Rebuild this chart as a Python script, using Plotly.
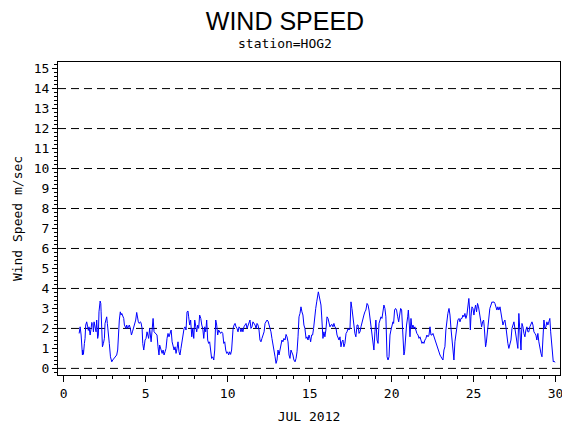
import plotly.graph_objects as go

# ─── Data: hourly-ish wind speed, station HOG2, July 2012 ───────────────────
DAYS = [
    0.94, 1.00, 1.06, 1.10, 1.14, 1.16, 1.20, 1.26, 1.30, 1.34, 1.40, 1.46, 1.50, 1.54, 1.61,
    1.67, 1.71, 1.77, 1.81, 1.85, 1.91, 1.97, 2.01, 2.07, 2.11, 2.15, 2.22, 2.26, 2.28, 2.32,
    2.36, 2.42, 2.48, 2.52, 2.58, 2.62, 2.66, 2.72, 2.78, 2.85, 2.89, 2.93, 2.99, 3.05, 3.13,
    3.23, 3.29, 3.33, 3.39, 3.45, 3.50, 3.54, 3.60, 3.66, 3.70, 3.74, 3.80, 3.84, 3.90, 3.94,
    4.00, 4.06, 4.13, 4.19, 4.25, 4.31, 4.39, 4.45, 4.49, 4.55, 4.61, 4.67, 4.71, 4.78, 4.82,
    4.88, 4.92, 4.96, 5.02, 5.08,
    5.18, 5.24, 5.33, 5.39, 5.45, 5.51, 5.59, 5.69, 5.75, 5.81, 5.85, 5.94, 6.00, 6.06, 6.12,
    6.18, 6.24, 6.30, 6.36, 6.42, 6.48, 6.55, 6.61, 6.67, 6.73, 6.79, 6.85, 6.91, 6.97, 7.03,
    7.09, 7.15, 7.22, 7.28, 7.34, 7.40, 7.46, 7.52, 7.58, 7.62, 7.68, 7.74, 7.81, 7.87, 7.93,
    7.99, 8.05, 8.11, 8.17, 8.23, 8.29, 8.36, 8.42, 8.48, 8.54, 8.60, 8.66, 8.72, 8.78, 8.84,
    8.90, 8.96, 9.02, 9.09, 9.15, 9.21, 9.27, 9.33, 9.39, 9.45, 9.51, 9.57, 9.63, 9.70, 9.76,
    9.82, 9.88, 9.94, 10.00, 10.06,
    10.12, 10.18, 10.24, 10.28, 10.33, 10.39, 10.45, 10.51, 10.57, 10.63, 10.69, 10.75, 10.81,
    10.87, 10.93, 10.99, 11.06, 11.12, 11.18, 11.24, 11.30, 11.36, 11.42, 11.48, 11.54, 11.61,
    11.67, 11.73, 11.79, 11.85, 11.91, 11.97, 12.03, 12.09, 12.15, 12.22, 12.28, 12.34, 12.40,
    12.46, 12.52, 12.58, 12.64, 12.70, 12.76, 12.83, 12.89, 12.95, 13.01, 13.07, 13.13, 13.19,
    13.25, 13.31, 13.37, 13.43, 13.50, 13.56, 13.62, 13.68, 13.74, 13.80, 13.86, 13.92, 13.98,
    14.04, 14.11, 14.17, 14.23, 14.29, 14.35, 14.41, 14.47, 14.53, 14.59, 14.65, 14.71, 14.78,
    14.84, 14.90, 14.96, 15.02,
    15.06, 15.12, 15.18, 15.24, 15.30, 15.37, 15.43, 15.49, 15.53, 15.57, 15.63, 15.69, 15.73,
    15.77, 15.81, 15.87, 15.93, 15.99, 16.06, 16.12, 16.18, 16.24, 16.30, 16.36, 16.42, 16.48,
    16.54, 16.61, 16.67, 16.73, 16.79, 16.85, 16.91, 16.97, 17.03, 17.09, 17.15, 17.22, 17.28,
    17.34, 17.40, 17.46, 17.52, 17.58, 17.64, 17.70, 17.76, 17.82, 17.89, 17.95, 18.01, 18.07,
    18.13, 18.19, 18.25, 18.31, 18.37, 18.43, 18.50, 18.56, 18.62, 18.68, 18.74, 18.80, 18.86,
    18.92, 18.98, 19.04, 19.11, 19.17, 19.23, 19.29, 19.35, 19.41, 19.47, 19.53, 19.59, 19.65,
    19.72, 19.78, 19.84, 19.90, 19.96, 20.02, 20.08,
    20.12, 20.18, 20.24, 20.30, 20.37, 20.43, 20.49, 20.55, 20.61, 20.65, 20.71, 20.75, 20.79,
    20.85, 20.91, 20.98, 21.02, 21.08, 21.12, 21.18, 21.24, 21.30, 21.36, 21.42, 21.48, 21.54,
    21.61, 21.67, 21.73, 21.79, 21.85, 21.91, 21.97, 22.03, 22.09, 22.15, 22.22, 22.28, 22.34,
    22.40, 22.46, 22.52, 22.58, 22.64, 22.70, 22.76, 22.82, 22.89, 22.95, 23.01, 23.07, 23.13,
    23.19, 23.25, 23.31, 23.37, 23.43, 23.50, 23.56, 23.62, 23.68, 23.74, 23.80, 23.86, 23.92,
    23.98, 24.04, 24.11, 24.17, 24.23, 24.29, 24.35, 24.41, 24.47, 24.53, 24.59, 24.65, 24.71,
    24.76, 24.80, 24.84, 24.90, 24.96, 25.02,
    25.06, 25.12, 25.18, 25.24, 25.30, 25.37, 25.43, 25.49, 25.55, 25.61, 25.65, 25.69, 25.73,
    25.77, 25.81, 25.87, 25.93, 25.99, 26.06, 26.12, 26.18, 26.24, 26.30, 26.36, 26.42, 26.48,
    26.54, 26.61, 26.67, 26.73, 26.79, 26.85, 26.91, 26.97, 27.03, 27.09, 27.15, 27.22, 27.28,
    27.34, 27.40, 27.46, 27.52, 27.58, 27.64, 27.70, 27.76, 27.83, 27.89, 27.95, 28.01, 28.07,
    28.13, 28.19, 28.25, 28.31, 28.37, 28.43, 28.50, 28.56, 28.62, 28.68, 28.74, 28.80, 28.86,
    28.92, 28.98, 29.04, 29.11, 29.17, 29.23, 29.29, 29.35, 29.41, 29.47, 29.53, 29.59, 29.65,
    29.70, 29.76, 29.82, 29.86, 29.90, 29.96,
]

WIND = [
    1.75, 2.08, 1.67, 0.75, 0.67, 0.92, 0.70, 1.25, 1.50, 2.17, 2.33, 2.08, 1.90, 2.08, 1.67,
    2.00, 2.30, 2.25, 1.83, 2.33, 2.08, 1.83, 2.42, 1.50, 1.67, 2.83, 3.37, 3.25, 2.83, 1.33,
    1.08, 1.25, 1.50, 2.25, 2.50, 2.58, 2.25, 1.83, 1.25, 0.58, 0.42, 0.33, 0.42, 0.50, 0.58,
    0.67, 0.92, 1.83, 2.42, 2.83, 2.67, 2.75, 2.58, 2.50, 2.17, 2.08, 2.00, 2.17, 2.00, 2.08,
    2.17, 2.00, 1.67, 1.83, 2.00, 2.17, 2.42, 2.80, 2.50, 2.33, 2.25, 2.33, 2.30, 2.00, 1.25,
    0.92, 1.17, 1.42, 1.50, 1.83,
    1.50, 2.00, 1.33, 2.00, 2.50, 1.83, 1.75, 1.67, 1.08, 0.67, 1.17, 0.92, 0.75, 0.92, 0.67,
    0.83, 1.00, 1.50, 1.75, 1.58, 1.75, 1.92, 1.33, 1.17, 0.92, 1.08, 0.75, 1.00, 1.33, 0.83,
    0.67, 1.00, 1.42, 1.75, 2.00, 2.08, 1.92, 2.83, 2.87, 2.58, 2.17, 2.42, 1.58, 2.00, 1.50,
    2.42, 2.08, 1.83, 2.17, 2.00, 2.67, 2.50, 2.17, 2.00, 1.50, 2.08, 1.83, 2.42, 1.42, 1.25,
    1.33, 0.67, 0.50, 0.58, 0.42, 0.92, 2.42, 2.17, 1.67, 1.92, 1.83, 1.75, 1.83, 1.75, 1.25,
    1.33, 0.92, 0.75, 0.83, 0.67,
    0.83, 0.70, 0.92, 1.83, 2.00, 2.17, 2.25, 2.08, 2.00, 1.83, 2.08, 2.00, 1.83,
    2.00, 1.83, 2.08, 2.17, 2.25, 2.00, 2.17, 2.33, 2.42, 2.00, 2.08, 2.33, 2.25,
    2.17, 2.00, 2.25, 2.17, 1.92, 1.42, 1.33, 1.50, 1.67, 1.83, 2.25, 2.33, 2.42,
    2.37, 2.17, 2.08, 1.83, 1.50, 1.25, 0.92, 0.58, 0.25, 0.42, 0.92, 0.67, 0.92,
    1.25, 1.42, 1.33, 1.50, 1.42, 1.70, 1.58, 1.33, 0.67, 0.50, 0.92, 0.83, 0.67,
    0.42, 0.33, 0.50, 0.83, 1.58, 2.58, 2.75, 3.08, 2.83, 2.67, 2.17, 2.00, 1.50,
    1.58, 1.42, 1.67, 1.50,
    1.33, 1.67, 1.67, 2.00, 2.67, 3.00, 3.33, 3.58, 3.83, 3.67, 3.42, 3.17, 2.67,
    2.00, 1.50, 1.83, 1.58, 1.92, 2.58, 2.50, 2.25, 2.08, 2.17, 2.20, 2.08, 2.25,
    2.08, 2.00, 1.67, 1.50, 1.42, 1.58, 1.08, 1.33, 1.42, 1.08, 1.25, 1.75, 1.83,
    2.00, 1.92, 2.00, 3.33, 3.00, 2.67, 2.17, 1.75, 1.58, 2.17, 2.17, 1.75, 1.83,
    2.08, 2.33, 2.58, 2.67, 2.83, 2.92, 3.25, 3.17, 2.92, 2.50, 2.08, 1.50, 1.08,
    0.92, 1.83, 2.42, 1.42, 1.25, 2.25, 2.50, 2.58, 2.50, 2.75, 3.17, 3.00, 2.58,
    0.58, 0.42, 0.58, 1.67, 1.92, 2.08, 2.33,
    2.25, 2.92, 3.00, 2.92, 2.58, 2.33, 2.67, 3.00, 2.92, 2.25, 1.00, 0.67, 0.83,
    1.83, 2.17, 2.58, 2.92, 2.17, 1.58, 2.50, 2.00, 2.17, 2.00, 2.08, 1.83, 1.75,
    1.67, 1.50, 1.58, 1.42, 1.25, 1.33, 1.25, 1.42, 1.50, 1.67, 1.58, 1.67, 2.08,
    1.67, 1.67, 1.75, 1.58, 1.50, 1.33, 1.08, 1.00, 0.83, 0.67, 0.58, 0.50, 0.42,
    0.92, 1.08, 1.92, 2.58, 2.75, 3.00, 2.67, 2.00, 1.50, 0.92, 0.42, 1.33, 1.75,
    2.00, 2.42, 2.50, 2.33, 2.50, 2.50, 2.67, 2.58, 2.75, 2.50, 2.67, 3.17, 3.50,
    2.92, 1.92, 2.58, 3.08, 3.00, 2.67,
    2.92, 3.17, 2.83, 3.25, 3.08, 2.67, 2.25, 2.08, 2.33, 2.42, 2.08, 1.67, 1.08,
    1.25, 1.58, 2.17, 2.75, 3.00, 3.17, 3.33, 3.30, 3.33, 3.25, 3.08, 2.92, 3.08,
    2.92, 3.08, 2.83, 2.50, 2.17, 2.33, 2.42, 2.08, 1.42, 1.25, 1.00, 1.17, 1.42,
    2.00, 2.17, 2.33, 2.00, 1.58, 1.17, 1.00, 2.75, 1.83, 0.92, 2.25, 2.08, 1.75,
    1.58, 1.92, 2.08, 1.83, 1.83, 2.08, 2.25, 2.33, 2.17, 1.83, 1.75, 1.67, 1.42,
    1.75, 1.33, 1.00, 0.75, 0.58, 1.50, 2.42, 2.00, 2.08, 2.33, 2.17, 2.33, 2.50,
    1.83, 1.33, 0.67, 0.33, 0.37, 0.30,
]

REF_LEVELS = [0, 2, 4, 6, 8, 10, 12, 14]

TITLE = "WIND SPEED"
SUBTITLE = "station=HOG2"
X_LABEL = "JUL 2012"
Y_LABEL = "Wind Speed m/sec"

_BLACK = "#000000"
_BLUE = "#0000ff"
_MONO = "DejaVu Sans Mono, monospace"

# the page body adds an 8px margin, so the figure is 8px smaller each way
_W, _H = 562, 422

fig = go.Figure()

fig.add_trace(go.Scatter(
    x=DAYS,
    y=WIND,
    mode="lines",
    line=dict(color=_BLUE, width=1),
    showlegend=False,
))

# dashed reference lines across the full width
for level in REF_LEVELS:
    fig.add_shape(
        type="line",
        xref="paper", x0=0, x1=1,
        yref="y", y0=level, y1=level,
        line=dict(color=_BLACK, width=1, dash="8px,5px"),
        layer="below",
    )

fig.add_annotation(
    text=SUBTITLE,
    xref="paper", yref="paper",
    x=0.452, y=1.058,
    xanchor="center", yanchor="middle",
    showarrow=False,
    font=dict(family=_MONO, size=13, color=_BLACK),
)

fig.update_layout(
    width=_W,
    height=_H,
    paper_bgcolor="white",
    plot_bgcolor="white",
    margin=dict(l=50, r=10, t=54, b=55, autoexpand=False),
    title=dict(
        text=TITLE,
        x=277 / _W, xref="container", xanchor="center",
        y=1 - 13 / _H, yref="container", yanchor="middle",
        font=dict(family="Liberation Sans, Arial, sans-serif", size=25, color=_BLACK),
    ),
    font=dict(family=_MONO, size=13, color=_BLACK),
    xaxis=dict(
        range=[-0.35, 30.27],
        tickmode="linear", tick0=0, dtick=5,
        ticks="outside", ticklen=6, tickcolor=_BLACK, tickwidth=1,
        minor=dict(dtick=1, tick0=0, ticks="outside", ticklen=3, tickcolor=_BLACK),
        showline=True, mirror=True, linecolor=_BLACK, linewidth=1,
        showgrid=False, zeroline=False, automargin=False,
        title=dict(text=X_LABEL, standoff=12, font=dict(family=_MONO, size=13)),
        tickfont=dict(family=_MONO, size=13),
    ),
    yaxis=dict(
        range=[-0.33, 15.33],
        tickmode="linear", tick0=0, dtick=1,
        ticks="outside", ticklen=5, tickcolor=_BLACK, tickwidth=1,
        minor=dict(dtick=0.2, tick0=0, ticks="outside", ticklen=3, tickcolor=_BLACK),
        showline=True, mirror=True, linecolor=_BLACK, linewidth=1,
        showgrid=False, zeroline=False, automargin=False,
        title=dict(text=Y_LABEL, standoff=8, font=dict(family=_MONO, size=13)),
        tickfont=dict(family=_MONO, size=13),
    ),
)

fig.write_html("out.html")
